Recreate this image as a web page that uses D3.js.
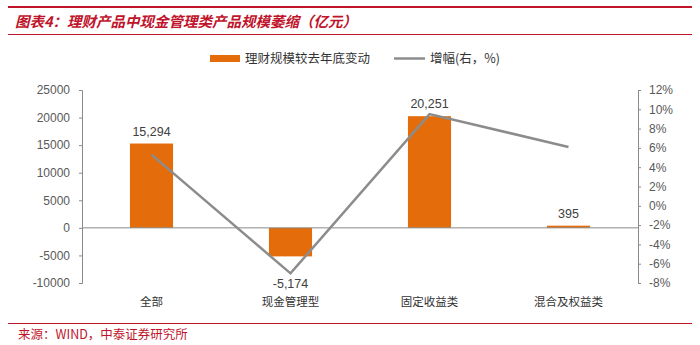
<!DOCTYPE html>
<html>
<head>
<meta charset="utf-8">
<script src="https://cdn.jsdelivr.net/npm/d3@7"></script>
<style>
  body { margin: 0; background: #fff; }
  svg { display: block; }
</style>
</head>
<body>
<svg id="chart" width="700" height="345"></svg>
<script>
const categories = ['全部', '现金管理型', '固定收益类', '混合及权益类'];
const scaleChange = [15294, -5174, 20251, 395];
const growthPct = [5.3, -7.0, 9.5, 6.1];
const leftTicks = [-10000, -5000, 0, 5000, 10000, 15000, 20000, 25000];
const rightTicks = [-8, -6, -4, -2, 0, 2, 4, 6, 8, 10, 12];

const ORANGE = '#E46C0A';
const GREY = '#8C8C8C';
const RED = '#C0142B';
const TEXT = '#404040';

const svg = d3.select('#chart');
const plotLeft = 82, plotRight = 638, plotTop = 90, plotBottom = 283;

// hyphen minus like the original, not d3's unicode minus
const fmtInt = d => String(d);
const fmtComma = d => d3.format(',')(d).replace('\u2212', '-');

// title + rules
svg.append('rect').attr('x', 8).attr('y', 6).attr('width', 684).attr('height', 2).attr('fill', RED);
svg.append('text')
  .attr('x', 15).attr('y', 27)
  .attr('fill', RED)
  .attr('font-family', '"Noto Sans CJK SC", sans-serif')
  .attr('font-size', 14.5).attr('font-weight', 'bold').attr('font-style', 'italic')
  .text('图表4：理财产品中现金管理类产品规模萎缩（亿元）');
svg.append('rect').attr('x', 8).attr('y', 34).attr('width', 684).attr('height', 1).attr('fill', RED);

const x = d3.scaleBand().domain(categories).range([plotLeft, plotRight]).paddingInner(0.69).paddingOuter(0.345);
const xc = d3.scalePoint().domain(categories).range([plotLeft, plotRight]).padding(0.5);
const y = d3.scaleLinear().domain([-10000, 25000]).range([plotBottom, plotTop]);
const y2 = d3.scaleLinear().domain([-8, 12]).range([plotBottom, plotTop]);

// left axis
const la = svg.append('g').attr('transform', `translate(${plotLeft},0)`)
  .call(d3.axisLeft(y).tickValues(leftTicks).tickSize(3).tickSizeOuter(3).tickPadding(9).tickFormat(fmtInt));
// right axis
const ra = svg.append('g').attr('transform', `translate(${plotRight},0)`)
  .call(d3.axisRight(y2).tickValues(rightTicks).tickSize(3).tickSizeOuter(3).tickPadding(8).tickFormat(d => d + '%'));
[la, ra].forEach(a => {
  a.select('.domain').attr('stroke', '#8a8a8a');
  a.selectAll('.tick line').attr('stroke', '#8a8a8a');
  a.selectAll('text').attr('fill', '#595959').attr('font-size', 12).attr('font-family', '"Liberation Sans", Arial, sans-serif');
});

// bars
svg.append('g').selectAll('rect').data(scaleChange).join('rect')
  .attr('x', (d, i) => x(categories[i]))
  .attr('width', x.bandwidth())
  .attr('y', d => y(Math.max(0, d)))
  .attr('height', d => Math.abs(y(d) - y(0)))
  .attr('fill', ORANGE);

// zero line
svg.append('line').attr('x1', plotLeft).attr('x2', plotRight).attr('y1', y(0)).attr('y2', y(0))
  .attr('stroke', '#8a8a8a').attr('stroke-width', 1);

// line
const line = d3.line().x((d, i) => xc(categories[i])).y(d => y2(d));
svg.append('path').datum(growthPct).attr('d', line)
  .attr('fill', 'none').attr('stroke', GREY).attr('stroke-width', 2.5);

// value labels
svg.append('g').selectAll('text').data(scaleChange).join('text')
  .attr('x', (d, i) => xc(categories[i]))
  .attr('y', d => d >= 0 ? y(d) - 8 : y(d) + 32)
  .attr('text-anchor', 'middle')
  .attr('fill', TEXT).attr('font-size', 12.5)
  .attr('font-family', '"Liberation Sans", Arial, sans-serif')
  .text(fmtComma);

// category labels
svg.append('g').selectAll('text').data(categories).join('text')
  .attr('x', d => xc(d)).attr('y', 306)
  .attr('text-anchor', 'middle')
  .attr('fill', '#333').attr('font-size', 11.5)
  .attr('font-family', '"Noto Sans CJK SC", sans-serif')
  .text(d => d);

// legend
const lg = svg.append('g').attr('font-family', '"Noto Sans CJK SC", sans-serif').attr('font-size', 12.5).attr('fill', '#333');
lg.append('rect').attr('x', 210).attr('y', 55).attr('width', 30).attr('height', 7).attr('fill', ORANGE);
lg.append('text').attr('x', 245).attr('y', 63).text('理财规模较去年底变动');
lg.append('line').attr('x1', 394).attr('x2', 425).attr('y1', 58.5).attr('y2', 58.5).attr('stroke', GREY).attr('stroke-width', 2.5);
lg.append('text').attr('x', 430).attr('y', 63).text('增幅(右，%)');

// footer
svg.append('rect').attr('x', 8).attr('y', 323).attr('width', 684).attr('height', 1).attr('fill', RED);
svg.append('text').attr('x', 18).attr('y', 339)
  .attr('fill', RED).attr('font-size', 12.5)
  .attr('font-family', '"Noto Sans CJK SC", sans-serif')
  .text('来源：WIND，中泰证券研究所');
</script>
</body>
</html>
